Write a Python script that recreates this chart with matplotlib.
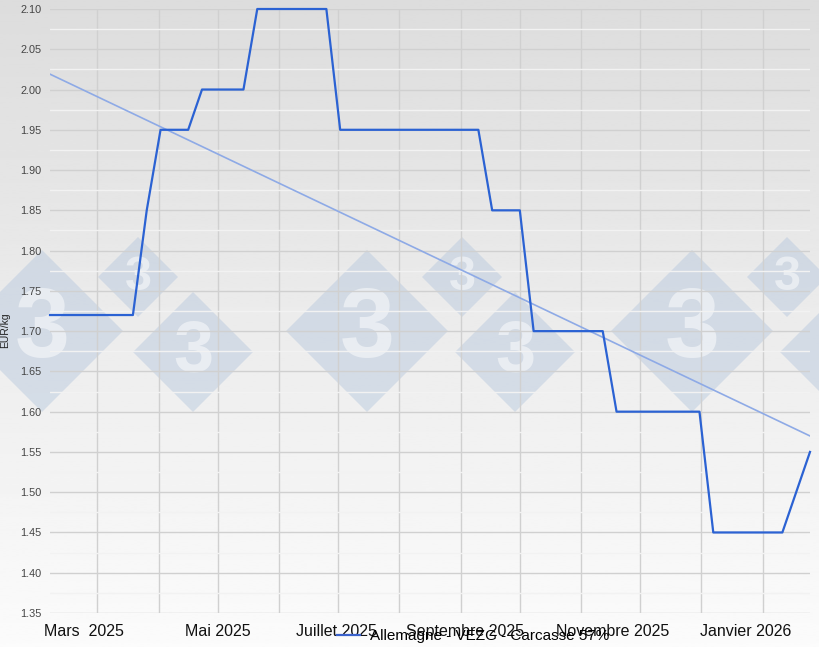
import matplotlib
matplotlib.use("Agg")
import matplotlib.pyplot as plt
import matplotlib.dates as mdates
from matplotlib.lines import Line2D
from matplotlib.patches import RegularPolygon
import numpy as np
import pandas as pd

plt.rcParams["font.family"] = ["Liberation Sans", "DejaVu Sans"]

# Prix hebdomadaire VEZG (EUR/kg carcasse), chaque mercredi
dates = pd.date_range("2025-02-05", periods=56, freq="7D")
prix = (
    [1.72] * 7 + [1.85] + [1.95] * 3 + [2.00] * 4 + [2.10] * 6
    + [1.95] * 11 + [1.85] * 3 + [1.70] * 6 + [1.60] * 7 + [1.45] * 6
    + [1.50, 1.55]
)
serie_label = "Allemagne - VEZG - Carcasse 57%"

mois_labels = ["Mars  2025", "Mai 2025", "Juillet 2025", "Septembre 2025",
               "Novembre 2025", "Janvier 2026"]
mois_dates = pd.to_datetime(["2025-03-01", "2025-05-01", "2025-07-01",
                             "2025-09-01", "2025-11-01", "2026-01-01"])
y_ticks = np.round(np.arange(1.35, 2.1001, 0.05), 2)

W, H = 820, 647
fig = plt.figure(figsize=(W / 100, H / 100), dpi=100)

# fond en degrade gris -> blanc
bg = fig.add_axes([0, 0, 1, 1], zorder=-3)
grad = np.linspace(0.865, 0.985, 256).reshape(-1, 1)
bg.imshow(grad, aspect="auto", cmap="gray", vmin=0, vmax=1, extent=[0, 1, 0, 1])
bg.axis("off")

# filigrane (losanges "3")
marques = [
    (42, 331, 81, 71), (138, 277, 40, 35), (193, 352, 60, 52),
    (367, 331, 81, 71), (462, 277, 40, 35), (515, 352, 60, 52),
    (692, 331, 81, 71), (787, 277, 40, 35), (840, 352, 60, 52),
]
for cx, cy, r, fs in marques:
    fig.patches.append(RegularPolygon((cx / 100, (H - cy) / 100), 4, radius=r / 100,
                                      orientation=0, transform=fig.dpi_scale_trans,
                                      facecolor="#b4c6dd", alpha=0.45, edgecolor="none",
                                      zorder=-2))
    if cx < W - 20:
        fig.text(cx / W, 1 - cy / H, "3", ha="center", va="center", fontsize=fs,
                 fontweight="bold", color="white", alpha=0.5, zorder=-1)

ax = fig.add_axes([50 / W, 1 - 613 / H, 760 / W, 604 / H], zorder=0)
ax.set_facecolor("none")

x = mdates.date2num(dates)
coef = np.polyfit(x, prix, 1)
ax.plot(dates[[0, -1]], np.polyval(coef, x[[0, -1]]), color="#8eaae6",
        linewidth=1.2, zorder=3)
ax.plot(dates, prix, color="#2b62d3", linewidth=1.6, zorder=4, clip_on=False)

ax.set_xlim(dates[0], dates[-1])
ax.set_ylim(1.35, 2.10)
ax.set_yticks(y_ticks)
ax.set_yticklabels([f"{v:.2f}" for v in y_ticks])
ax.set_yticks(np.arange(1.375, 2.1, 0.05), minor=True)
ax.xaxis.set_major_locator(mdates.MonthLocator())
ax.tick_params(axis="x", labelbottom=False, length=0)
ax.tick_params(axis="y", which="both", length=0, labelsize=7.8, labelcolor="#444444", pad=6)
ax.grid(True, which="major", color="#d0d0d0", linewidth=1)
ax.grid(True, which="minor", axis="y", color="#f2f2f2", linewidth=1)
for s in ax.spines.values():
    s.set_visible(False)
ax.set_ylabel("EUR/kg", fontsize=7.5, color="#222222")
ax.yaxis.set_label_coords(-0.053, 0.469)

decalages = [-10, 0, -1.5, 3, 23, 32]
for d, lab, dx in zip(mdates.date2num(mois_dates), mois_labels, decalages):
    ax.annotate(lab, xy=(d, 0), xycoords=ax.get_xaxis_transform(),
                xytext=(dx, -13), textcoords="offset points",
                ha="center", va="center", fontsize=11.5, color="#111111")

fig.legend([Line2D([], [], color="#3a62cc", linewidth=1.6)], [serie_label],
           loc="center", bbox_to_anchor=(0.577, 0.017), frameon=False,
           fontsize=11, handlelength=1.5, handletextpad=0.6)

fig.savefig("out.png", dpi=100)
